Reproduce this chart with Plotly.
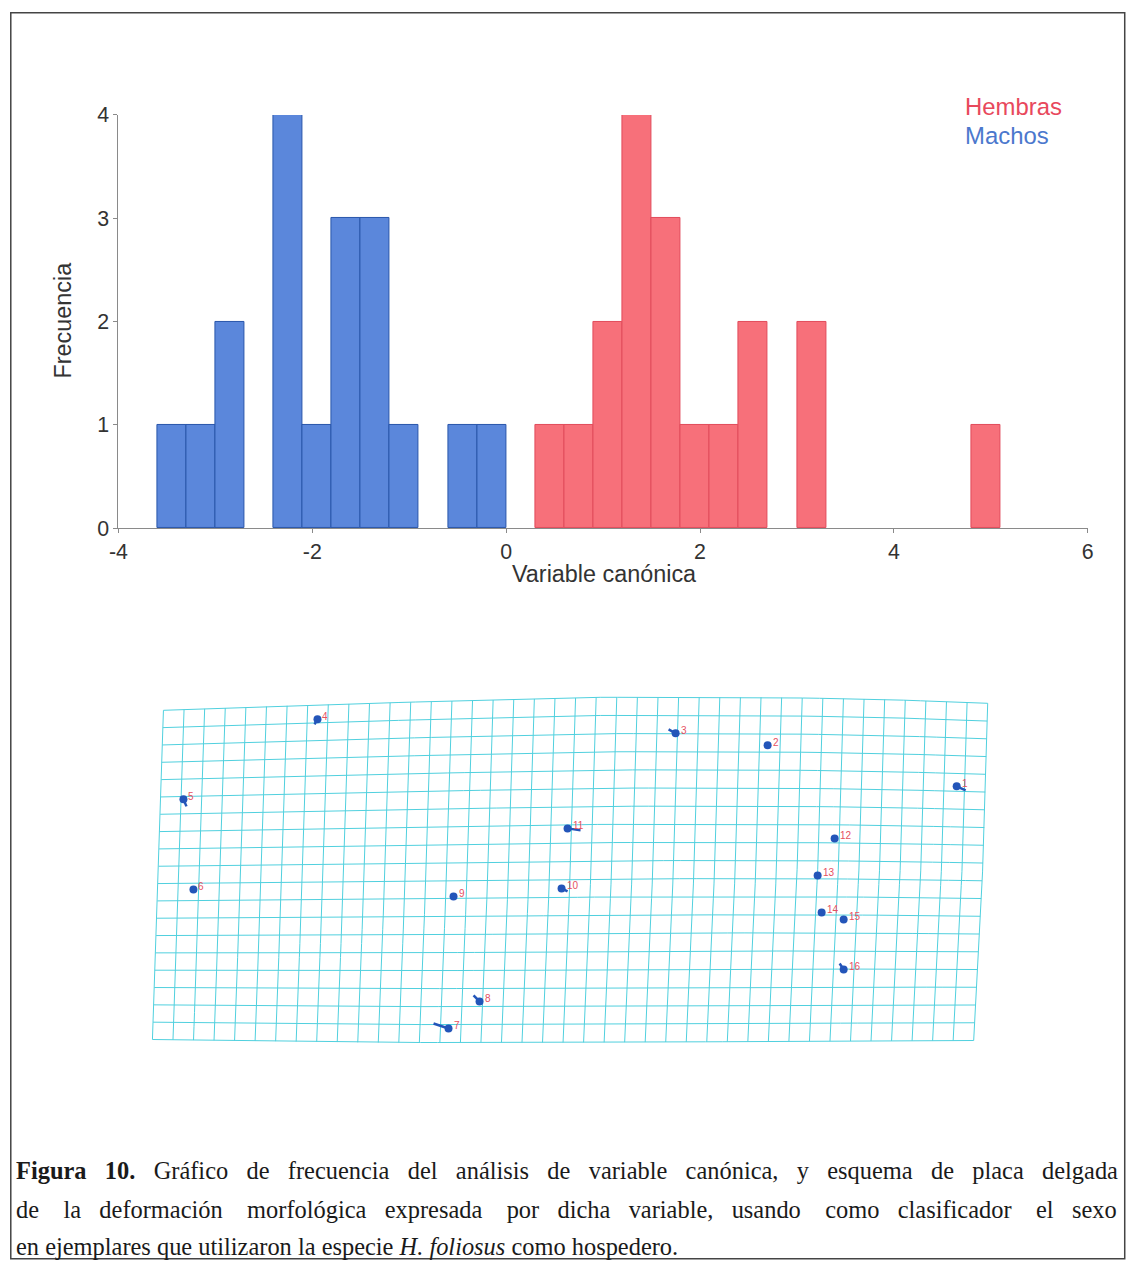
import numpy as np
import plotly.graph_objects as go

W, H = 1134, 1263          # target picture size

# The photographed page shows the figure slightly scaled/offset; these constants map
# a wanted picture pixel T to a figure pixel f:  T = A * f + B  (measured on earlier renders)
AX, BX = 0.9856, 9.6
AY, BY = 0.9806, 12.1
FW, FH = 1134, 1275        # figure size in figure pixels
FS = 1 / 0.983             # font scale compensation

# ---------------- Histogram data (bin width 0.3) ----------------
bin_width = 0.3
machos_left = [-3.6, -3.3, -3.0, -2.4, -2.1, -1.8, -1.5, -1.2, -0.6, -0.3]
machos_counts = [1, 1, 2, 4, 1, 3, 3, 1, 1, 1]
hembras_left = [0.3, 0.6, 0.9, 1.2, 1.5, 1.8, 2.1, 2.4, 3.0, 4.8]
hembras_counts = [1, 1, 2, 4, 3, 1, 1, 2, 2, 1]
x_ticks = [-4, -2, 0, 2, 4, 6]
x_tick_text = ["-4", "-2", "0", "2", "4", "6"]
y_ticks = [0, 1, 2, 3, 4]

# ---------------- Thin-plate grid (picture pixel coordinates) ----------------
n_cols = 41   # vertical grid lines
n_rows = 20   # horizontal grid lines
top_x = [163, 300, 440, 600, 760, 880, 987]
top_y = [710, 705, 701, 697, 697, 699, 703]
bottom_x = [152, 370, 560, 770, 973]
bottom_y = [1039, 1042, 1042, 1041, 1040]
left_y = [710, 870, 1039]
left_x = [163, 158, 152]
right_y = [703, 850, 1040]
right_x = [987, 983, 973]

# landmarks: id, dot position, end of displacement stick
lm_id = [str(i) for i in range(1, 17)]
lm_x = [956, 767, 675, 317, 183, 193, 448, 479, 453, 561, 567, 834, 817, 821, 843, 843]
lm_y = [786, 745, 733, 719, 799, 889, 1028, 1001, 896, 888, 828, 838, 875, 912, 919, 969]
stick_x = [965, 767, 668, 314, 186, 193, 433, 473, 453, 567, 580, 834, 817, 821, 843, 839]
stick_y = [790, 745, 729, 724, 806, 889, 1023, 995, 896, 891, 830, 838, 875, 912, 919, 963]

# ---------------- Caption ----------------
caption_lines = [
    ["<b>Figura</b>", "<b>10.</b>", "Gráfico", "de", "frecuencia", "del", "análisis", "de",
     "variable", "canónica,", "y", "esquema", "de", "placa", "delgada"],
    ["de", "la", "deformación", "morfológica", "expresada", "por", "dicha", "variable,",
     "usando", "como", "clasificador", "el", "sexo"],
    ["en", "ejemplares", "que", "utilizaron", "la", "especie", "<i>H.", "foliosus</i>",
     "como", "hospedero."],
]
# non-breaking spaces per gap (emulated justification)
caption_gaps = [
    [3] * 14,
    [4, 3, 4, 3, 4, 3, 3, 3, 4, 3, 4, 3],
    [1] * 9,
]
caption_y = [1170, 1209, 1246]

blue_fill = "rgb(91,135,219)"
blue_line = "rgb(40,85,170)"
red_fill = "rgb(247,112,122)"
red_line = "rgb(225,75,90)"
axis_col = "#8a8a8a"
txt_col = "#333333"
sans = "Liberation Sans, Arial, sans-serif"
serif = "Liberation Serif, Times New Roman, serif"


def px(T):
    return ((T - BX) / AX) / FW


def py(T):
    return 1 - ((T - BY) / AY) / FH


fig = go.Figure()

fig.add_trace(go.Bar(
    x=machos_left, y=machos_counts, width=bin_width, offset=0,
    marker=dict(color=blue_fill, line=dict(color=blue_line, width=1)),
    name="Machos", showlegend=False, xaxis="x", yaxis="y"))
fig.add_trace(go.Bar(
    x=hembras_left, y=hembras_counts, width=bin_width, offset=0,
    marker=dict(color=red_fill, line=dict(color=red_line, width=1)),
    name="Hembras", showlegend=False, xaxis="x", yaxis="y"))

# grid via Coons patch from boundary curves
def top(u):
    x = top_x[0] + u * (top_x[-1] - top_x[0])
    return x, np.interp(x, top_x, top_y)

def bottom(u):
    x = bottom_x[0] + u * (bottom_x[-1] - bottom_x[0])
    return x, np.interp(x, bottom_x, bottom_y)

def left(v):
    y = left_y[0] + v * (left_y[-1] - left_y[0])
    return np.interp(y, left_y, left_x), y

def right(v):
    y = right_y[0] + v * (right_y[-1] - right_y[0])
    return np.interp(y, right_y, right_x), y

P00 = np.array(top(0.0)); P10 = np.array(top(1.0))
P01 = np.array(bottom(0.0)); P11 = np.array(bottom(1.0))

def coons(u, v):
    T = np.array(top(u)); B = np.array(bottom(u))
    L = np.array(left(v)); R = np.array(right(v))
    bil = (1 - u) * (1 - v) * P00 + u * (1 - v) * P10 + (1 - u) * v * P01 + u * v * P11
    return (1 - v) * T + v * B + (1 - u) * L + u * R - bil

gx, gy = [], []
for i in range(n_cols):
    u = i / (n_cols - 1)
    for v in np.linspace(0, 1, 25):
        p = coons(u, v); gx.append(p[0]); gy.append(p[1])
    gx.append(None); gy.append(None)
for j in range(n_rows):
    v = j / (n_rows - 1)
    for u in np.linspace(0, 1, 50):
        p = coons(u, v); gx.append(p[0]); gy.append(p[1])
    gx.append(None); gy.append(None)

fig.add_trace(go.Scatter(x=gx, y=gy, mode="lines",
                         line=dict(color="rgb(80,208,222)", width=1),
                         hoverinfo="skip", showlegend=False, xaxis="x2", yaxis="y2"))

sx, sy = [], []
for a, b, c, d in zip(lm_x, lm_y, stick_x, stick_y):
    sx += [a, c, None]; sy += [b, d, None]
fig.add_trace(go.Scatter(x=sx, y=sy, mode="lines",
                         line=dict(color="rgb(35,85,185)", width=2.5),
                         hoverinfo="skip", showlegend=False, xaxis="x2", yaxis="y2"))
fig.add_trace(go.Scatter(x=lm_x, y=lm_y, mode="markers",
                         marker=dict(color="rgb(35,85,185)", size=8),
                         showlegend=False, xaxis="x2", yaxis="y2"))

ann = []
for t, a, b in zip(lm_id, lm_x, lm_y):
    ann.append(dict(text=t, x=a, y=b, xref="x2", yref="y2", xanchor="left", yanchor="middle",
                    xshift=3, yshift=3, showarrow=False,
                    font=dict(color="rgb(230,80,95)", size=10, family=sans)))
# legend-like labels
ann.append(dict(text="Hembras", x=px(962), y=py(107), xref="paper", yref="paper",
                xanchor="left", yanchor="middle", showarrow=False,
                font=dict(color="rgb(232,72,92)", size=23.5 * FS, family=sans)))
ann.append(dict(text="Machos", x=px(962), y=py(136), xref="paper", yref="paper",
                xanchor="left", yanchor="middle", showarrow=False,
                font=dict(color="rgb(75,120,205)", size=23.5 * FS, family=sans)))
# axis titles
ann.append(dict(text="Frecuencia", x=px(63), y=py(320), xref="paper", yref="paper",
                textangle=-90, xanchor="center", yanchor="middle", showarrow=False,
                font=dict(color=txt_col, size=23 * FS, family=sans)))
ann.append(dict(text="Variable canónica", x=px(603), y=py(574), xref="paper", yref="paper",
                xanchor="center", yanchor="middle", showarrow=False,
                font=dict(color=txt_col, size=23 * FS, family=sans)))
# caption
for words, gaps, yy in zip(caption_lines, caption_gaps, caption_y):
    txt = words[0]
    for w, g in zip(words[1:], gaps):
        txt += "\u00a0" * g + w
    ann.append(dict(text=txt, x=px(14), y=py(yy), xref="paper", yref="paper",
                    xanchor="left", yanchor="middle", showarrow=False,
                    font=dict(color="#1a1a1a", size=24 * FS, family=serif)))

fig.update_layout(
    width=FW, height=FH, margin=dict(l=0, r=0, t=0, b=0),
    paper_bgcolor="white", plot_bgcolor="rgba(0,0,0,0)",
    barmode="overlay", bargap=0,
    font=dict(family=sans, color=txt_col, size=21 * FS),
    xaxis=dict(domain=[px(118), px(1087)], range=[-4, 6], tickvals=x_ticks, ticktext=x_tick_text,
               showgrid=False, zeroline=False, showline=True, linecolor=axis_col, linewidth=1,
               ticks="outside", ticklen=4, tickcolor=axis_col,
               tickfont=dict(size=21 * FS, color=txt_col, family=sans), anchor="y"),
    yaxis=dict(domain=[py(528), py(115)], range=[0, 4], tickvals=y_ticks,
               showgrid=False, zeroline=False, showline=True, linecolor=axis_col, linewidth=1,
               ticks="outside", ticklen=4, tickcolor=axis_col,
               tickfont=dict(size=21 * FS, color=txt_col, family=sans), anchor="x"),
    xaxis2=dict(domain=[0, 1], range=[BX, AX * FW + BX], visible=False, anchor="y2"),
    yaxis2=dict(domain=[0, 1], range=[AY * FH + BY, BY], visible=False, anchor="x2"),
    annotations=ann,
    shapes=[dict(type="rect", xref="paper", yref="paper",
                 x0=0.0007, x1=px(1124), y0=0.9994, y1=py(1258),
                 line=dict(color="#444444", width=1.5))],
)

fig.write_html("out.html", config={"displayModeBar": False})
